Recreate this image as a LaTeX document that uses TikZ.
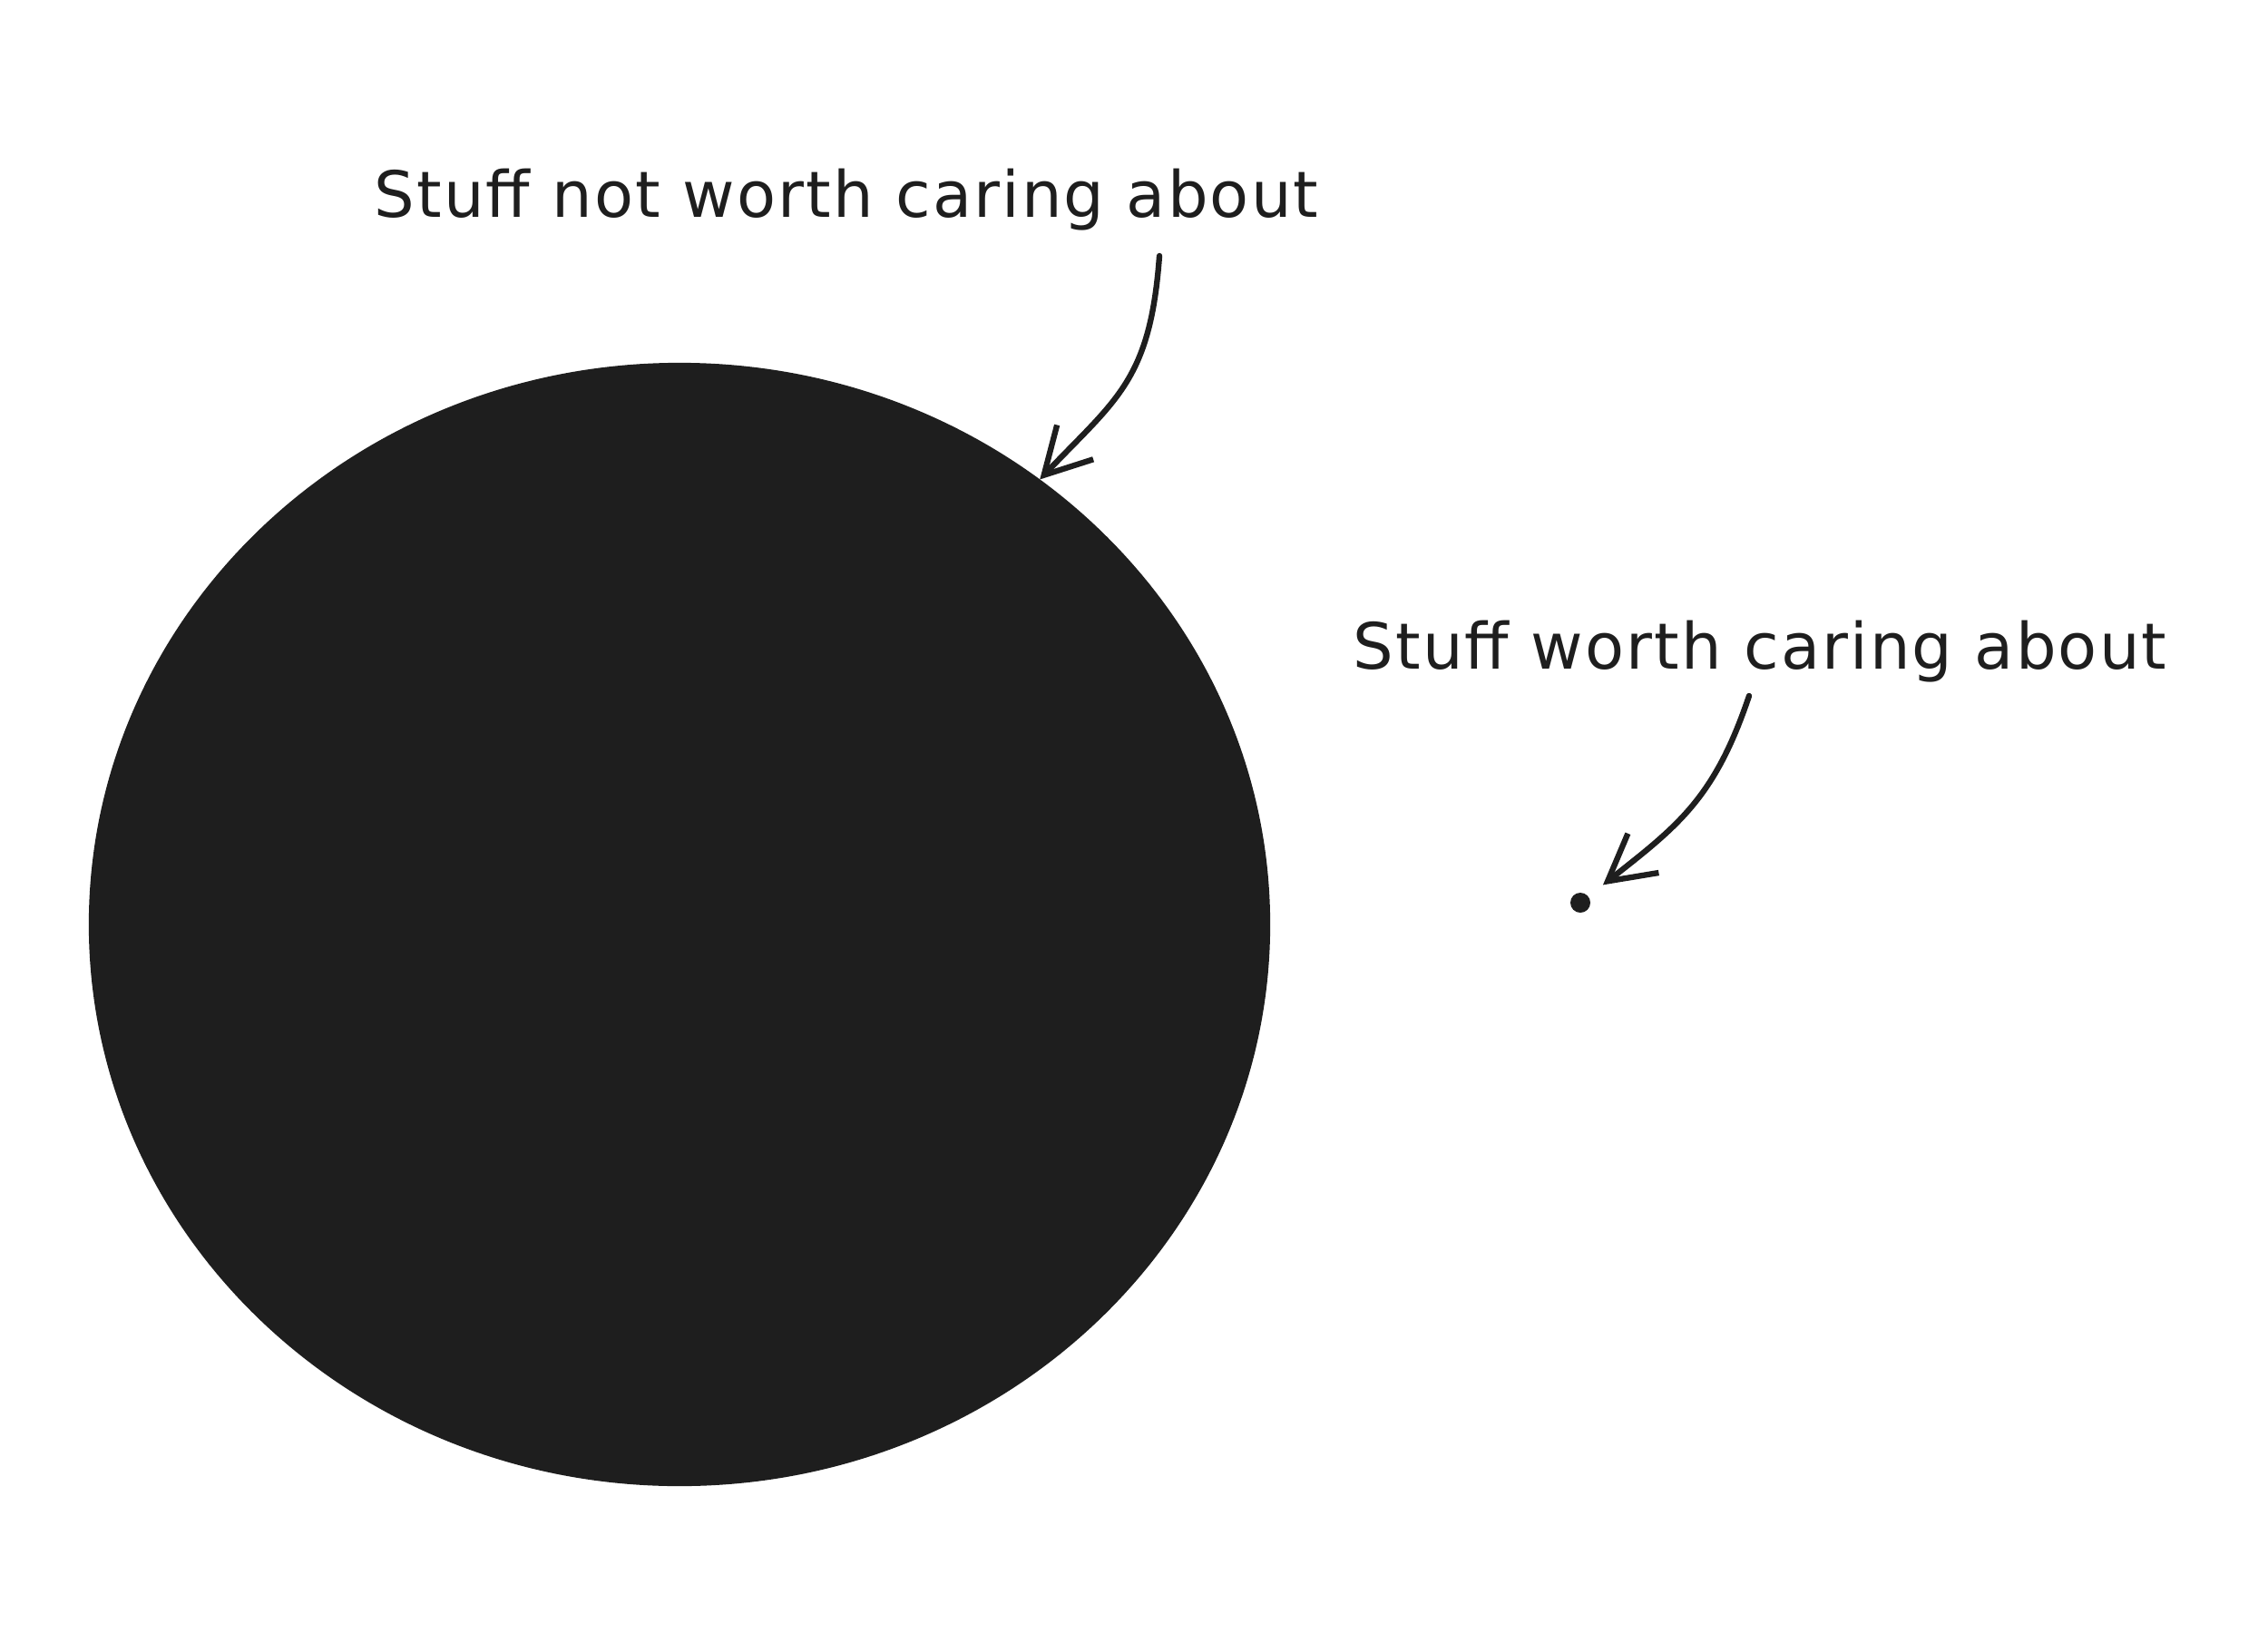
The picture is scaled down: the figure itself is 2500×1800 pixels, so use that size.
\documentclass[tikz,border=0pt]{standalone}
\usepackage{fontspec}
\setmainfont{DejaVu Sans}[LetterSpace=3]
\usetikzlibrary{arrows.meta,shapes.geometric}
\definecolor{ink}{HTML}{1E1E1E}

\begin{document}
\begin{tikzpicture}[
    x=0.01cm, y=-0.01cm,
    note/.style={anchor=base, text=ink, font=\fontsize{20}{24}\selectfont, inner sep=0pt},
    blobnode/.style={ellipse, fill=ink, draw=ink, line width=1pt,
      minimum width=12.98cm, minimum height=12.34cm, inner sep=0pt},
    dotnode/.style={circle, fill=ink, minimum size=0.22cm, inner sep=0pt},
    pointer/.style={draw=ink, line width=1.8pt, line cap=round,
      -{Straight Barb[length=0.5cm, width=0.55cm, line width=1.8pt]}},
]
\useasboundingbox (0,0) rectangle (2500,1800);

% the big blob and the tiny dot
\node[blobnode] (blob) at (749,1019) {};
\node[dotnode] (dot) at (1742,995) {};

% labels
\node[note] (notworth) at (933,239) {Stuff not worth caring about};
\node[note] (worth) at (1940,737) {Stuff worth caring about};

% arrows
\coordinate (s1) at (1278,282);
\coordinate (s2) at (1928,767);
\draw[pointer] (s1) .. controls (1268,420) and (1230,440) .. (blob.51);
\draw[pointer, shorten >=2mm] (s2) .. controls (1890,880) and (1850,910) .. (dot);

\end{tikzpicture}
\end{document}
